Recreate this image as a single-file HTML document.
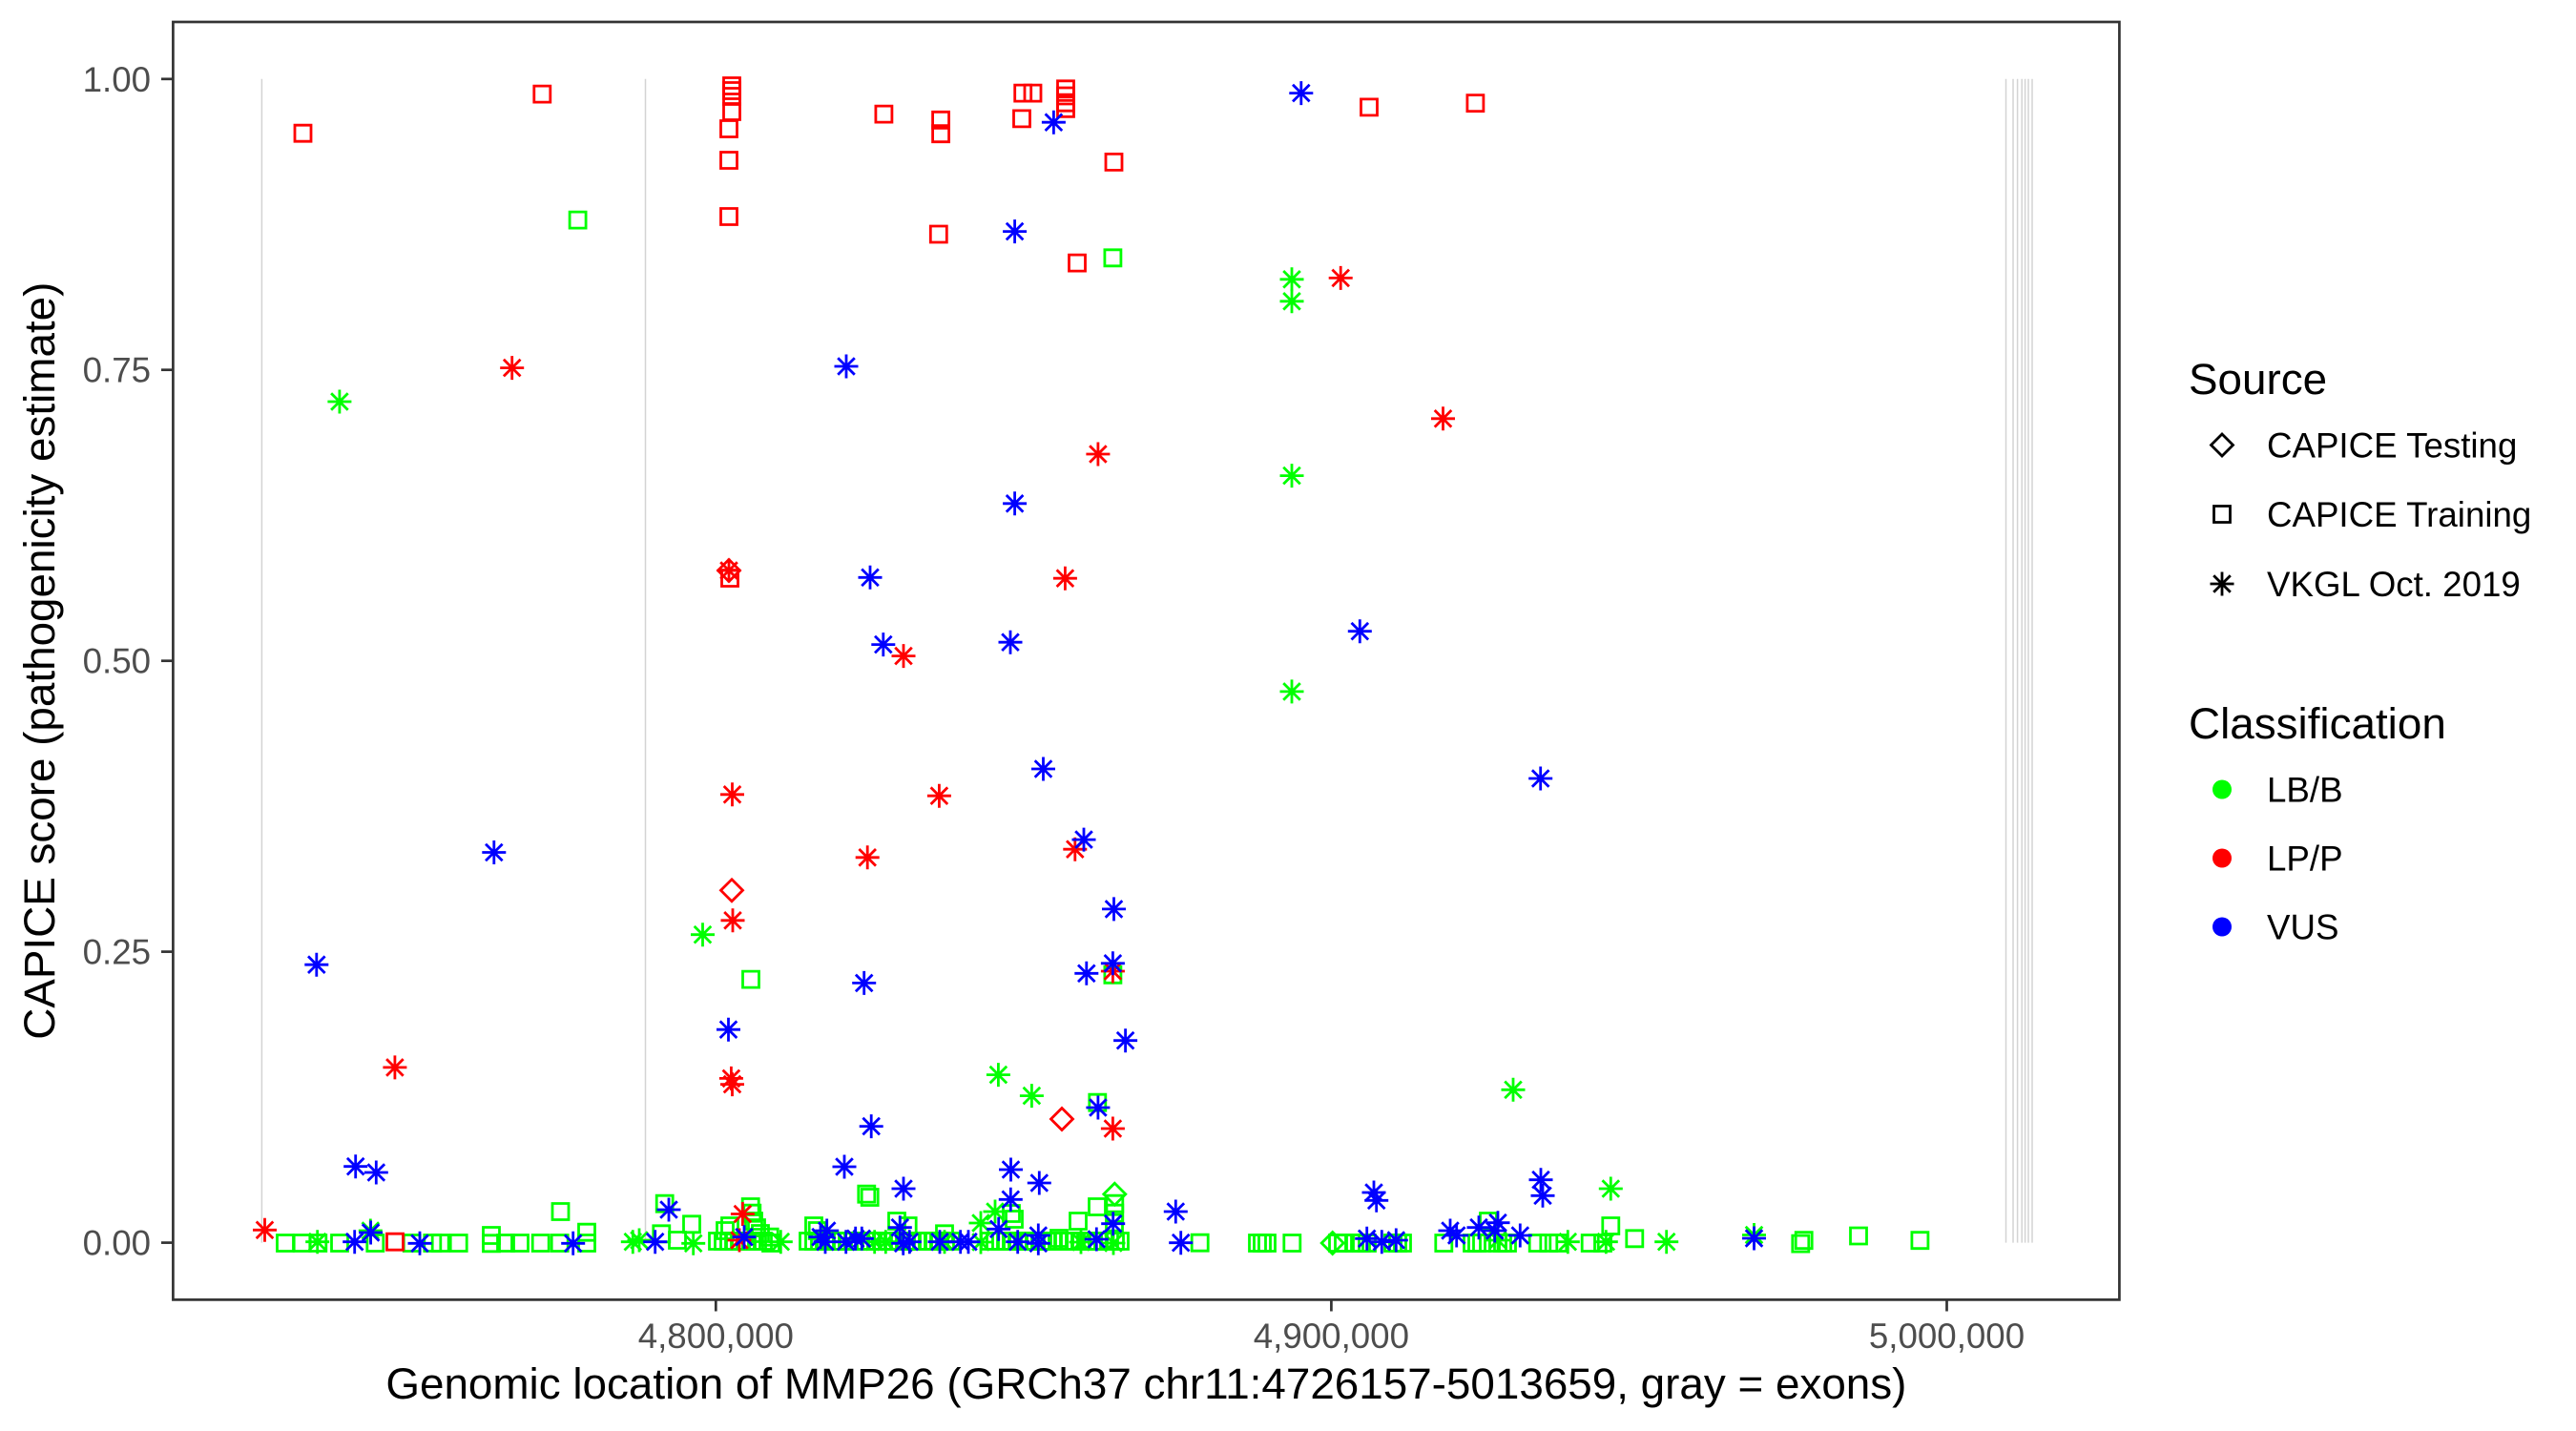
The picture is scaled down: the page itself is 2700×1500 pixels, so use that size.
<!DOCTYPE html>
<html><head><meta charset="utf-8"><style>
html,body{margin:0;padding:0;background:#fff;}
svg{display:block;}
text{font-family:"Liberation Sans",Arial,sans-serif;}
</style></head><body>
<svg width="2700" height="1500" viewBox="0 0 2700 1500" xmlns="http://www.w3.org/2000/svg">
<defs>
<path id="s" d="M-8.5,-8.5h17v17h-17z" fill="none"/>
<path id="d" d="M0,-11.5L11.5,0L0,11.5L-11.5,0z" fill="none"/>
<path id="a" d="M-12.5,0H12.5M0,-12.5V12.5M-8.8,-8.8L8.8,8.8M-8.8,8.8L8.8,-8.8" fill="none"/>
</defs>
<rect width="2700" height="1500" fill="#fff"/>
<!-- exon lines -->
<g stroke="#D3D3D3" stroke-width="1.5">
<line x1="274.4" y1="82.8" x2="274.4" y2="1302.6"/>
<line x1="676.5" y1="82.8" x2="676.5" y2="1302.6"/>
<line x1="2102.5" y1="82.8" x2="2102.5" y2="1302.6"/>
<line x1="2110" y1="82.8" x2="2110" y2="1302.6"/>
<line x1="2114.6" y1="82.8" x2="2114.6" y2="1302.6"/>
<line x1="2119.2" y1="82.8" x2="2119.2" y2="1302.6"/>
<line x1="2122.6" y1="82.8" x2="2122.6" y2="1302.6"/>
<line x1="2126" y1="82.8" x2="2126" y2="1302.6"/>
<line x1="2130" y1="82.8" x2="2130" y2="1302.6"/>
</g>
<!-- green squares -->
<g stroke="#00FF00" stroke-width="2.8" fill="none">
<use href="#s" x="605.6" y="230.6"/><use href="#s" x="1166.4" y="270.3"/>
<use href="#s" x="787" y="1026.6"/><use href="#s" x="1150.3" y="1155.7"/><use href="#s" x="1166.4" y="1021.8"/>
<use href="#s" x="587.5" y="1270"/><use href="#s" x="615" y="1291.7"/><use href="#s" x="615" y="1303"/>
<use href="#s" x="696.7" y="1261.7"/><use href="#s" x="693.3" y="1293.3"/><use href="#s" x="725" y="1283.3"/><use href="#s" x="710" y="1300"/>
<use href="#s" x="515" y="1295"/><use href="#s" x="515" y="1303.3"/>
<use href="#s" x="299" y="1303"/><use href="#s" x="316.7" y="1303"/><use href="#s" x="333.3" y="1303"/><use href="#s" x="356" y="1303"/>
<use href="#s" x="393.3" y="1303"/><use href="#s" x="431.7" y="1303"/><use href="#s" x="453.3" y="1303"/><use href="#s" x="461.7" y="1303"/>
<use href="#s" x="480.7" y="1303"/><use href="#s" x="530" y="1303"/><use href="#s" x="545" y="1303"/><use href="#s" x="566.7" y="1303"/><use href="#s" x="586.7" y="1303"/>
<use href="#s" x="752" y="1301"/><use href="#s" x="758" y="1301"/><use href="#s" x="764" y="1301"/><use href="#s" x="770" y="1301"/>
<use href="#s" x="776" y="1301"/><use href="#s" x="782" y="1301"/><use href="#s" x="788" y="1301"/><use href="#s" x="794" y="1301"/>
<use href="#s" x="800" y="1301"/><use href="#s" x="806.7" y="1296.7"/><use href="#s" x="808" y="1303"/>
<use href="#s" x="760" y="1290"/><use href="#s" x="765" y="1285"/><use href="#s" x="786.7" y="1265"/><use href="#s" x="788.3" y="1271.7"/>
<use href="#s" x="790" y="1280"/><use href="#s" x="793" y="1287"/><use href="#s" x="797" y="1293"/>
<use href="#s" x="847" y="1301"/><use href="#s" x="853" y="1301"/><use href="#s" x="859" y="1301"/><use href="#s" x="865" y="1301"/>
<use href="#s" x="871" y="1301"/><use href="#s" x="877" y="1301"/><use href="#s" x="883" y="1301"/><use href="#s" x="889" y="1301"/>
<use href="#s" x="895" y="1301"/><use href="#s" x="901" y="1301"/><use href="#s" x="907" y="1301"/><use href="#s" x="913" y="1301"/>
<use href="#s" x="919" y="1301"/><use href="#s" x="925" y="1301"/><use href="#s" x="931" y="1301"/><use href="#s" x="937" y="1301"/>
<use href="#s" x="943" y="1301"/><use href="#s" x="949" y="1301"/><use href="#s" x="955" y="1301"/><use href="#s" x="961" y="1301"/>
<use href="#s" x="967" y="1301"/><use href="#s" x="973" y="1301"/><use href="#s" x="979" y="1301"/><use href="#s" x="985" y="1301"/>
<use href="#s" x="991" y="1301"/><use href="#s" x="997" y="1301"/>
<use href="#s" x="853" y="1285"/><use href="#s" x="856.7" y="1290"/><use href="#s" x="908.3" y="1251.7"/><use href="#s" x="911.7" y="1255"/>
<use href="#s" x="940" y="1280"/><use href="#s" x="951.7" y="1285"/><use href="#s" x="990" y="1293.3"/>
<use href="#s" x="1037" y="1301"/><use href="#s" x="1043" y="1301"/><use href="#s" x="1049" y="1301"/><use href="#s" x="1055" y="1301"/>
<use href="#s" x="1061" y="1301"/><use href="#s" x="1067" y="1301"/><use href="#s" x="1073" y="1301"/><use href="#s" x="1079" y="1301"/>
<use href="#s" x="1085" y="1301"/><use href="#s" x="1091" y="1301"/><use href="#s" x="1097" y="1301"/><use href="#s" x="1103" y="1301"/>
<use href="#s" x="1109" y="1301"/><use href="#s" x="1115" y="1301"/><use href="#s" x="1121" y="1301"/><use href="#s" x="1127" y="1301"/>
<use href="#s" x="1133" y="1301"/><use href="#s" x="1139" y="1301"/><use href="#s" x="1145" y="1301"/><use href="#s" x="1151" y="1301"/>
<use href="#s" x="1157" y="1301"/><use href="#s" x="1163" y="1301"/><use href="#s" x="1169" y="1301"/><use href="#s" x="1174" y="1301"/>
<use href="#s" x="1060" y="1272"/><use href="#s" x="1063" y="1278"/><use href="#s" x="1110" y="1298"/><use href="#s" x="1130" y="1280"/>
<use href="#s" x="1150" y="1265"/><use href="#s" x="1168.3" y="1261.7"/><use href="#s" x="1168.3" y="1271.7"/><use href="#s" x="1168" y="1281.7"/>
<use href="#s" x="1257.7" y="1302.7"/>
<use href="#s" x="1318" y="1303"/><use href="#s" x="1323" y="1303"/><use href="#s" x="1328" y="1303"/><use href="#s" x="1354.3" y="1303"/>
<use href="#s" x="1402" y="1303"/><use href="#s" x="1408" y="1303"/><use href="#s" x="1420" y="1303"/><use href="#s" x="1427" y="1303"/><use href="#s" x="1433" y="1303"/>
<use href="#s" x="1460" y="1303"/><use href="#s" x="1465" y="1303"/><use href="#s" x="1470" y="1303"/><use href="#s" x="1513.3" y="1303"/>
<use href="#s" x="1543" y="1303"/><use href="#s" x="1548" y="1303"/><use href="#s" x="1553" y="1303"/>
<use href="#s" x="1570" y="1303"/><use href="#s" x="1575" y="1303"/><use href="#s" x="1580" y="1303"/>
<use href="#s" x="1611.7" y="1303"/><use href="#s" x="1623.3" y="1303"/><use href="#s" x="1633.3" y="1303"/>
<use href="#s" x="1666.7" y="1303"/><use href="#s" x="1680" y="1303"/><use href="#s" x="1713.3" y="1298.3"/><use href="#s" x="1688.3" y="1285"/>
<use href="#s" x="1560" y="1280"/>
<use href="#s" x="1887.3" y="1303.6"/><use href="#s" x="1890.7" y="1300.2"/><use href="#s" x="1948" y="1295.5"/><use href="#s" x="2012.4" y="1300.2"/>
</g>
<!-- red squares -->
<g stroke="#FF0000" stroke-width="2.8" fill="none">
<use href="#s" x="317.5" y="139.7"/><use href="#s" x="568.3" y="98.6"/>
<use href="#s" x="767" y="90"/><use href="#s" x="767" y="95"/><use href="#s" x="767" y="101"/><use href="#s" x="767" y="117"/>
<use href="#s" x="764" y="135"/><use href="#s" x="764" y="168"/><use href="#s" x="764" y="227"/><use href="#s" x="765" y="606"/>
<use href="#s" x="926.4" y="119.6"/><use href="#s" x="986.1" y="125.8"/><use href="#s" x="986.1" y="140.2"/>
<use href="#s" x="1072.2" y="97.6"/><use href="#s" x="1082.5" y="97.6"/>
<use href="#s" x="1117" y="93.3"/><use href="#s" x="1117" y="100.5"/><use href="#s" x="1117" y="107.7"/><use href="#s" x="1117" y="113.9"/>
<use href="#s" x="1071" y="124.4"/><use href="#s" x="1167.5" y="169.9"/><use href="#s" x="1435" y="112.4"/><use href="#s" x="1546.4" y="108.1"/>
<use href="#s" x="983.8" y="245.5"/><use href="#s" x="1129" y="275.6"/><use href="#s" x="414" y="1301.7"/>
</g>
<!-- diamonds -->
<g stroke="#00FF00" stroke-width="2.8" fill="none">
<use href="#d" x="1168.3" y="1251.7"/><use href="#d" x="1396.7" y="1303"/>
</g>
<g stroke="#FF0000" stroke-width="2.8" fill="none">
<use href="#d" x="767" y="933.3"/><use href="#d" x="1113" y="1173"/><use href="#d" x="764" y="598"/>
</g>
<!-- green asterisks -->
<g stroke="#00FF00" stroke-width="2.8" fill="none">
<use href="#a" x="355.9" y="421"/><use href="#a" x="736.5" y="979.7"/>
<use href="#a" x="1354" y="292.8"/><use href="#a" x="1354" y="315.8"/><use href="#a" x="1354" y="498.6"/><use href="#a" x="1354" y="724.9"/>
<use href="#a" x="1046.4" y="1126.6"/><use href="#a" x="1081.4" y="1148.6"/><use href="#a" x="1586" y="1142.3"/><use href="#a" x="1688.3" y="1246"/>
<use href="#a" x="332.7" y="1301.7"/><use href="#a" x="388.3" y="1290"/><use href="#a" x="663.3" y="1301.7"/><use href="#a" x="670" y="1300"/>
<use href="#a" x="726.7" y="1303.3"/><use href="#a" x="818.3" y="1301.7"/><use href="#a" x="916.7" y="1301.7"/><use href="#a" x="928.3" y="1301.7"/>
<use href="#a" x="990" y="1301.7"/><use href="#a" x="1028" y="1282"/><use href="#a" x="1043" y="1270"/><use href="#a" x="1028" y="1302"/>
<use href="#a" x="1133" y="1302"/><use href="#a" x="1167" y="1303"/><use href="#a" x="1570" y="1300"/><use href="#a" x="1643.3" y="1301.7"/>
<use href="#a" x="1683.3" y="1301.7"/><use href="#a" x="1746.7" y="1301.7"/><use href="#a" x="1838.5" y="1294.5"/>
</g>
<!-- red asterisks -->
<g stroke="#FF0000" stroke-width="2.8" fill="none">
<use href="#a" x="536.7" y="385.6"/><use href="#a" x="764" y="598"/><use href="#a" x="767.5" y="832.8"/><use href="#a" x="768" y="964.8"/>
<use href="#a" x="413.9" y="1118.9"/><use href="#a" x="766.4" y="1130.4"/><use href="#a" x="767.5" y="1136.6"/><use href="#a" x="277.5" y="1289.3"/>
<use href="#a" x="778.4" y="1272.5"/><use href="#a" x="775" y="1300"/><use href="#a" x="1405.2" y="291.4"/><use href="#a" x="1512.5" y="438.8"/>
<use href="#a" x="1150.9" y="476"/><use href="#a" x="1116.4" y="606.2"/><use href="#a" x="947" y="687.6"/><use href="#a" x="984.4" y="834.2"/>
<use href="#a" x="909.2" y="898.8"/><use href="#a" x="1126.8" y="890.2"/><use href="#a" x="1166.4" y="1018"/><use href="#a" x="1166.4" y="1183"/>
</g>
<!-- blue asterisks -->
<g stroke="#0000FF" stroke-width="2.8" fill="none">
<use href="#a" x="887" y="384"/><use href="#a" x="1104.4" y="128.2"/><use href="#a" x="1363.8" y="97.6"/><use href="#a" x="1063.6" y="242.6"/>
<use href="#a" x="1063.6" y="527.8"/><use href="#a" x="912" y="605.3"/><use href="#a" x="1425.3" y="661.7"/><use href="#a" x="925.8" y="675.6"/>
<use href="#a" x="1059" y="673.2"/><use href="#a" x="1093.5" y="806"/><use href="#a" x="1614.7" y="816"/><use href="#a" x="1136" y="880.1"/>
<use href="#a" x="1167.5" y="952.9"/><use href="#a" x="1166.4" y="1009.8"/><use href="#a" x="1138.8" y="1020.3"/><use href="#a" x="905.7" y="1030.4"/>
<use href="#a" x="1179.6" y="1090.7"/><use href="#a" x="1150.9" y="1161"/><use href="#a" x="913.2" y="1180.6"/><use href="#a" x="517.8" y="893.5"/>
<use href="#a" x="331.8" y="1011.2"/><use href="#a" x="763.5" y="1079.2"/><use href="#a" x="885" y="1223"/><use href="#a" x="372.7" y="1222.7"/>
<use href="#a" x="394.3" y="1229"/><use href="#a" x="1059.5" y="1226"/><use href="#a" x="1089.3" y="1240"/><use href="#a" x="947" y="1246"/>
<use href="#a" x="1059.3" y="1257.3"/><use href="#a" x="701" y="1268"/><use href="#a" x="388.6" y="1292"/><use href="#a" x="1615" y="1236.7"/>
<use href="#a" x="1617" y="1253.3"/><use href="#a" x="1440" y="1250"/><use href="#a" x="1442.7" y="1258.3"/><use href="#a" x="1232.3" y="1270"/>
<use href="#a" x="1166.7" y="1282.7"/><use href="#a" x="1046.7" y="1288.3"/><use href="#a" x="1520" y="1290"/><use href="#a" x="1526.7" y="1295"/>
<use href="#a" x="1550" y="1286.7"/><use href="#a" x="1570" y="1281.7"/><use href="#a" x="1566.7" y="1290"/><use href="#a" x="1593.3" y="1295"/>
<use href="#a" x="1838.5" y="1298"/>
<use href="#a" x="371.7" y="1301.7"/><use href="#a" x="440" y="1303.3"/><use href="#a" x="600.7" y="1303.3"/><use href="#a" x="686.7" y="1301.7"/>
<use href="#a" x="780" y="1296.7"/><use href="#a" x="860" y="1296.7"/><use href="#a" x="866.7" y="1290"/><use href="#a" x="865" y="1301.7"/>
<use href="#a" x="886.7" y="1301.7"/><use href="#a" x="896.7" y="1298.3"/><use href="#a" x="903.3" y="1298.3"/><use href="#a" x="943.3" y="1286.7"/>
<use href="#a" x="946.7" y="1303.3"/><use href="#a" x="953.3" y="1301.7"/><use href="#a" x="985" y="1301.7"/><use href="#a" x="1006.7" y="1301.7"/>
<use href="#a" x="1015" y="1301.7"/><use href="#a" x="1066.7" y="1301.7"/><use href="#a" x="1088.3" y="1295"/><use href="#a" x="1088.3" y="1303.3"/>
<use href="#a" x="1149.3" y="1299"/><use href="#a" x="1237.7" y="1302.7"/><use href="#a" x="1432.7" y="1298.3"/><use href="#a" x="1448.3" y="1301.7"/>
<use href="#a" x="1463.3" y="1300"/>
</g>
<!-- panel border -->
<rect x="181.4" y="23" width="2040" height="1339.4" fill="none" stroke="#333333" stroke-width="2.7"/>
<!-- ticks -->
<g stroke="#333333" stroke-width="2.7">
<line x1="169" y1="1302.6" x2="181.4" y2="1302.6"/>
<line x1="169" y1="997.6" x2="181.4" y2="997.6"/>
<line x1="169" y1="692.7" x2="181.4" y2="692.7"/>
<line x1="169" y1="387.7" x2="181.4" y2="387.7"/>
<line x1="169" y1="82.8" x2="181.4" y2="82.8"/>
<line x1="750.3" y1="1362.4" x2="750.3" y2="1374.5"/>
<line x1="1395.4" y1="1362.4" x2="1395.4" y2="1374.5"/>
<line x1="2040.5" y1="1362.4" x2="2040.5" y2="1374.5"/>
</g>
<g font-size="36.7" fill="#4D4D4D">
<text x="158" y="1315.6" text-anchor="end">0.00</text>
<text x="158" y="1010.6" text-anchor="end">0.25</text>
<text x="158" y="705.7" text-anchor="end">0.50</text>
<text x="158" y="400.7" text-anchor="end">0.75</text>
<text x="158" y="95.8" text-anchor="end">1.00</text>
<text x="750.3" y="1413" text-anchor="middle">4,800,000</text>
<text x="1395.4" y="1413" text-anchor="middle">4,900,000</text>
<text x="2040.5" y="1413" text-anchor="middle">5,000,000</text>
</g>
<text x="1201.4" y="1466" text-anchor="middle" font-size="45.8" fill="#000">Genomic location of MMP26 (GRCh37 chr11:4726157-5013659, gray = exons)</text>
<text transform="translate(57,692.7) rotate(-90)" text-anchor="middle" font-size="45.8" fill="#000">CAPICE score (pathogenicity estimate)</text>
<!-- legend -->
<text x="2294" y="413" font-size="45.8" fill="#000">Source</text>
<g stroke="#000" stroke-width="2.8" fill="none">
<use href="#d" x="2329" y="466.5"/>
<use href="#s" x="2329" y="539"/>
<use href="#a" x="2329" y="612"/>
</g>
<g font-size="36.7" fill="#000">
<text x="2376" y="479.5">CAPICE Testing</text>
<text x="2376" y="552">CAPICE Training</text>
<text x="2376" y="625">VKGL Oct. 2019</text>
</g>
<text x="2294" y="774" font-size="45.8" fill="#000">Classification</text>
<circle cx="2329" cy="827.5" r="10" fill="#00FF00"/>
<circle cx="2329" cy="899.5" r="10" fill="#FF0000"/>
<circle cx="2329" cy="971.5" r="10" fill="#0000FF"/>
<g font-size="36.7" fill="#000">
<text x="2376" y="840.5">LB/B</text>
<text x="2376" y="912.5">LP/P</text>
<text x="2376" y="984.5">VUS</text>
</g>
</svg>
</body></html>
